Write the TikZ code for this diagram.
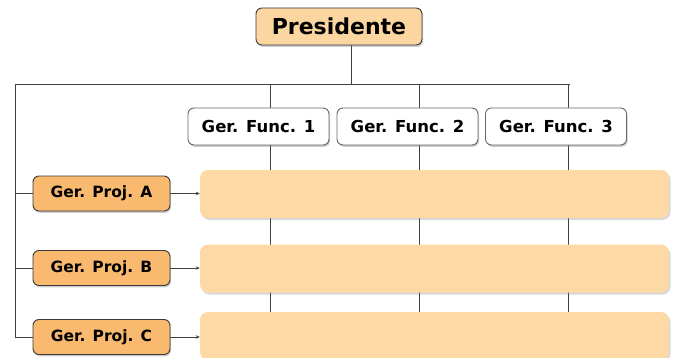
\documentclass[tikz,border=0pt]{standalone}
\usepackage{fontspec}
\setmainfont{DejaVu Sans}
\usetikzlibrary{shadows,arrows.meta,backgrounds}
\definecolor{presfill}{HTML}{FCD6A0}
\definecolor{projfill}{HTML}{F9B96E}
\definecolor{bandfill}{HTML}{FDD9A6}
\definecolor{edgecol}{HTML}{3A3A3A}
\definecolor{linecol}{HTML}{404040}
\tikzset{
  box/.style={draw=edgecol, line width=0.9pt, rounded corners=6pt, inner sep=0pt, font=\bfseries,
    drop shadow={opacity=0.4, shadow xshift=1.2pt, shadow yshift=-1.8pt}},
  presbox/.style={box, fill=presfill, minimum width=166pt, minimum height=37pt, font=\bfseries\fontsize{22}{26}\selectfont},
  funcbox/.style={box, draw=gray!80!black, fill=white, minimum width=141pt, minimum height=37pt, font=\bfseries\fontsize{16.5}{19}\selectfont},
  projbox/.style={box, fill=projfill, minimum width=137pt, minimum height=35pt, font=\bfseries\fontsize{15.5}{18}\selectfont},
  band/.style={draw=none, fill=bandfill, rounded corners=8pt, minimum width=469pt, minimum height=48pt,
    drop shadow={opacity=0.3, shadow xshift=1.5pt, shadow yshift=-2pt}},
  conn/.style={draw=linecol, line width=0.8pt},
  arr/.style={conn, -{Stealth[length=4pt,width=3.5pt]}}
}
\begin{document}
\begin{tikzpicture}[x=1pt,y=-1pt]
\useasboundingbox (0,0) rectangle (676,358);
\clip (0,0) rectangle (676,358);
\node[presbox] (pres) at (339,26.5) {Presidente};
\node[funcbox] (f1) at (258.5,126.5) {Ger. Func. 1};
\node[funcbox] (f2) at (407.5,126.5) {Ger. Func. 2};
\node[funcbox] (f3) at (556,126.5) {Ger. Func. 3};
\node[band] (bA) at (434.5,194) {};
\node[band] (bB) at (434.5,268.5) {};
\node[band] (bC) at (434.5,336) {};
\node[projbox] (pA) at (101.5,193.5) {Ger. Proj. A};
\node[projbox] (pB) at (101.5,268) {Ger. Proj. B};
\node[projbox] (pC) at (101.5,337) {Ger. Proj. C};
\coordinate (top) at (351,84);
\coordinate (left) at (15,84);
\coordinate (right) at (570,84);
\begin{scope}[on background layer]
\draw[conn] ([xshift=12pt]pres.south) -- (top);
\draw[conn] (left) -- (right);
\draw[conn] (left) |- (pC.west);
\draw[conn] (left) |- (pA.west);
\draw[conn] (left) |- (pB.west);
\foreach \f in {f1,f2,f3}{
  \draw[conn] ([xshift=12pt]\f.north) -- ([xshift=12pt]\f.north |- top);
  \draw[conn] ([xshift=12pt]\f.south) -- ([xshift=12pt]\f.south |- bC.north);
}
\end{scope}
\draw[arr] (pA.east) -- (bA.west |- pA.east);
\draw[arr] (pB.east) -- (bB.west |- pB.east);
\draw[arr] (pC.east) -- (bC.west |- pC.east);
\end{tikzpicture}
\end{document}
